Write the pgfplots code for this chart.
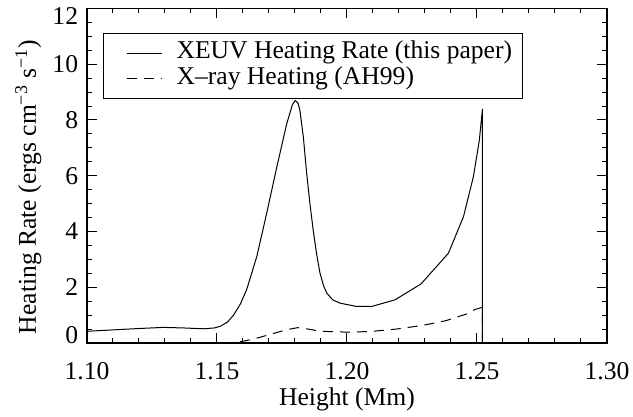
\documentclass[border=0pt]{standalone}
\usepackage{pgfplots}
\pgfplotsset{compat=1.18}
\usepackage{fontspec}
\setmainfont{Liberation Serif}
\begin{document}
\fontsize{12.8pt}{15pt}\selectfont
\begin{tikzpicture}
\useasboundingbox (0,0) rectangle (316.5pt,208.5pt);
\begin{axis}[
  at={(43.5pt,37pt)}, anchor=south west,
  scale only axis, width=260pt, height=167.25pt,
  xmin=1.10, xmax=1.30, ymin=0, ymax=12,
  xtick={1.10,1.15,1.20,1.25,1.30},
  minor x tick num=4,
  ytick={0,2,4,6,8,10,12},
  minor y tick num=3,
  tick align=inside,
  major tick length=5pt, minor tick length=2.5pt,
  every tick/.style={black, line width=0.5pt},
  axis line style={line width=0.8pt},
  /pgf/number format/assume math mode=true,
  xticklabel style={/pgf/number format/.cd, fixed, fixed zerofill, precision=2, /tikz/.cd, yshift=-5.5pt},
  yticklabel style={/utils/exec={\ifnum\ticknum=0 \gdef\myys{3.8pt}\else\ifnum\ticknum=6 \gdef\myys{-3.8pt}\else\gdef\myys{0pt}\fi\fi}, yshift=\myys},
  ticklabel style={font=\fontsize{12.8pt}{15pt}\selectfont},
  xlabel={Height (Mm)},
  ylabel={Heating Rate (ergs cm\textsuperscript{−3} s\textsuperscript{−1})},
  label style={font=\fontsize{12.8pt}{15pt}\selectfont},
  xlabel style={at={(axis description cs:0.5,-0.168)}, anchor=center},
  ylabel style={at={(axis description cs:-0.113,0.466)}, anchor=center, rotate=0},
  legend style={at={(axis description cs:0.031,0.926)}, anchor=north west,
    draw=black, line width=0.5pt, inner xsep=5pt, inner ysep=3.3pt,
    column sep=0pt, row sep=0pt,
    font=\fontsize{12.8pt}{15pt}\selectfont,
    nodes={inner sep=0pt, text height=9.2pt, text depth=3.65pt}},
  legend cell align=left,
  legend image code/.code={\path[draw=none] (0pt,0pt) rectangle (31.5pt,0.1pt); \draw[#1] (6.5pt,0pt) -- (24pt,0pt);},
]
\addplot[black, line width=0.5pt] coordinates {
(1.100,0.42) (1.110,0.47) (1.120,0.52) (1.1295,0.56) (1.137,0.54) (1.1449,0.51)
(1.1490,0.54) (1.1513,0.60) (1.1540,0.75) (1.1563,0.99) (1.1590,1.40) (1.1614,1.91)
(1.1653,3.10) (1.1691,4.65) (1.1730,6.31) (1.1768,7.86) (1.1790,8.55) (1.1801,8.70)
(1.1812,8.60) (1.1819,8.34) (1.1832,7.40) (1.1845,6.08) (1.1858,4.95) (1.1870,4.05)
(1.1883,3.20) (1.1896,2.51) (1.1910,2.05) (1.1922,1.79) (1.1945,1.55) (1.1973,1.43)
(1.2037,1.31) (1.2095,1.31) (1.2185,1.55) (1.2285,2.12) (1.2390,3.22) (1.2448,4.53)
(1.2486,5.96) (1.2509,7.27) (1.2521,8.40) (1.2521,0.00) (1.3000,0.00)
};
\addlegendentry{XEUV Heating Rate (this paper)}
\addplot[black, line width=0.5pt, dash pattern=on 5pt off 3.5pt] coordinates {
(1.100,0) (1.154,0) (1.1580,0.03) (1.1615,0.09) (1.1660,0.19) (1.1716,0.34)
(1.1770,0.48) (1.1810,0.55) (1.1850,0.50) (1.1900,0.42) (1.1998,0.39) (1.2088,0.41)
(1.2190,0.50) (1.2290,0.63) (1.2380,0.80) (1.2460,1.04) (1.2492,1.20) (1.2521,1.28)
(1.2521,0) (1.3,0)
};
\addlegendentry{X–ray Heating (AH99)}
\end{axis}
\end{tikzpicture}
\end{document}
